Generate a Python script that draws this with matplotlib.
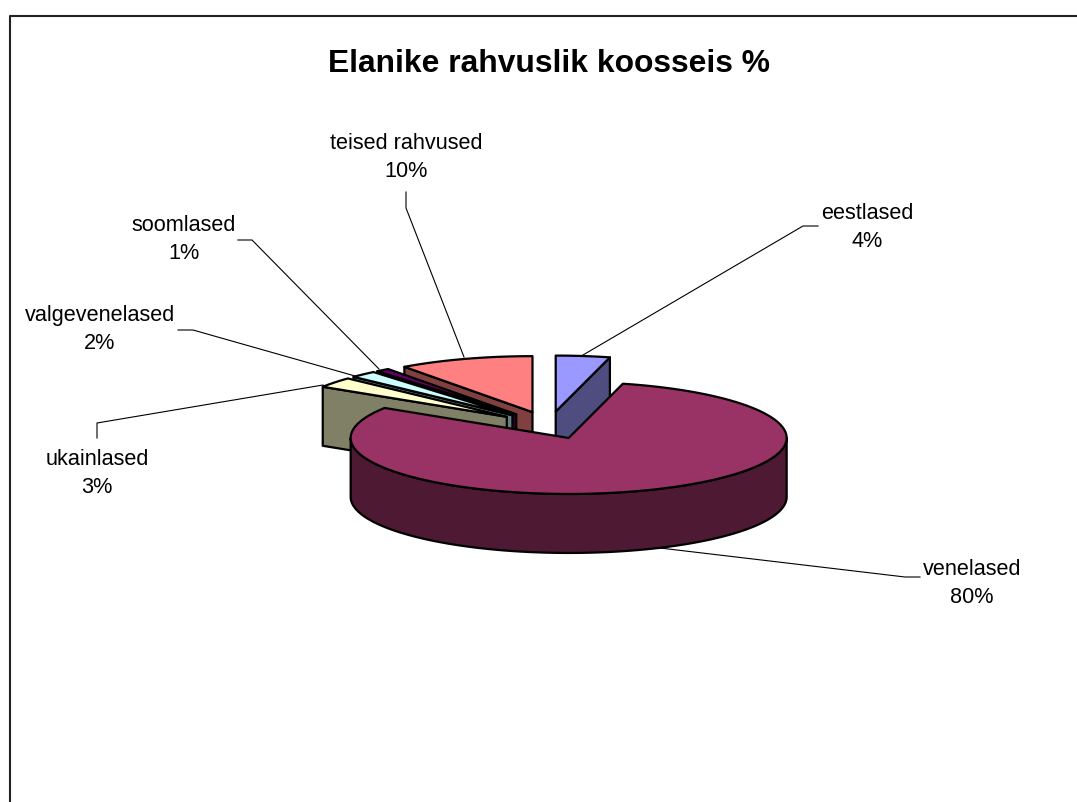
import numpy as np
import matplotlib
matplotlib.use("Agg")
import matplotlib.pyplot as plt
from matplotlib.patches import Polygon

plt.rcParams['font.family'] = ['Liberation Sans', 'DejaVu Sans']

# ---- data -------------------------------------------------------------
categories = ["eestlased", "venelased", "ukainlased", "valgevenelased", "soomlased", "teised rahvused"]
values = [4, 80, 3, 2, 1, 10]
top_colors = ["#9999FF", "#993366", "#FFFFCC", "#CCFFFF", "#660066", "#FF8080"]
side_colors = ["#4D4D80", "#4D1933", "#808066", "#668080", "#330033", "#804040"]
# painter's order: far slices first
draw_order = [0, 5, 4, 3, 2, 1]
title = "Elanike rahvuslik koosseis %"

# ---- layout (pixels) ---------------------------------------------------
W, H = 1077, 802
CX, CY = 549.0, 425.2
RX, RY = 218.0, 56.0
DEPTH = 59.0
EXPLODE = 0.245

label_xy = [(867, 227.5), (972, 583.5), (97, 473.5), (100, 329.5), (184, 239.5), (406, 157.5)]
leaders = [
    [(583, 355), (803, 226), (818, 226)],
    [(660, 548), (905, 577), (920, 577)],
    [(323, 385), (97, 423), (97, 438)],
    [(355, 376), (193, 330), (178, 330)],
    [(379, 369), (252, 240), (238, 240)],
    [(464, 357), (406, 208), (406, 192)],
]

fig = plt.figure(figsize=(W / 100, H / 100), dpi=100)
ax = fig.add_axes([0, 0, 1, 1])
ax.set_xlim(0, W)
ax.set_ylim(H, 0)
ax.axis("off")

# chart frame
ax.plot([10, 10, 1078], [803, 16, 16], color="#222222", lw=1.5, clip_on=False)


def rim(a, b, ox, oy, dy=0.0, n=None):
    n = n or max(2, int(abs(b - a) / 1.5) + 2)
    t = np.radians(np.linspace(a, b, n))
    return np.column_stack([ox + RX * np.sin(t), oy - RY * np.cos(t) + dy])


edge = dict(edgecolor="black", linewidth=1.6, joinstyle="round")
pct = np.array(values, dtype=float) / sum(values) * 360.0
starts = np.concatenate([[0.0], np.cumsum(pct)[:-1]])

for i in draw_order:
    a, b = starts[i], starts[i] + pct[i]
    mid = np.radians((a + b) / 2)
    ox = CX + EXPLODE * RX * np.sin(mid)
    oy = CY - EXPLODE * RY * np.cos(mid)
    apex = np.array([ox, oy])
    z = 2 + draw_order.index(i)
    # radial cut walls facing the viewer
    for ang, visible in ((a, np.sin(np.radians(a)) < -1e-9), (b, np.sin(np.radians(b)) > 1e-9)):
        if visible:
            p = rim(ang, ang, ox, oy, n=2)[0]
            wall = [apex, p, p + [0, DEPTH], apex + [0, DEPTH]]
            ax.add_patch(Polygon(wall, closed=True, facecolor=side_colors[i], zorder=z, **edge))
    # outer wall on the front half
    lo, hi = max(a, 90.0), min(b, 270.0)
    if hi > lo:
        front = rim(lo, hi, ox, oy)
        back = rim(hi, lo, ox, oy, dy=DEPTH)
        ax.add_patch(Polygon(np.vstack([front, back]), closed=True,
                             facecolor=side_colors[i], zorder=z, **edge))
    # top face
    top = np.vstack([apex, rim(a, b, ox, oy)])
    ax.add_patch(Polygon(top, closed=True, facecolor=top_colors[i], zorder=z, **edge))

# leader lines and labels
for name, v, (lx, ly), pts in zip(categories, values, label_xy, leaders):
    xs, ys = zip(*pts)
    ax.plot(xs, ys, color="black", lw=0.8, zorder=20)
    ax.text(lx, ly, f"{name}\n{v}%", ha="center", va="center", fontsize=15.6,
            linespacing=1.46, color="black", zorder=21)

ax.text(549.5, 64, title, ha="center", va="center", fontsize=22.9, fontweight="bold", color="black")

fig.savefig("out.png", dpi=100, facecolor="white")
